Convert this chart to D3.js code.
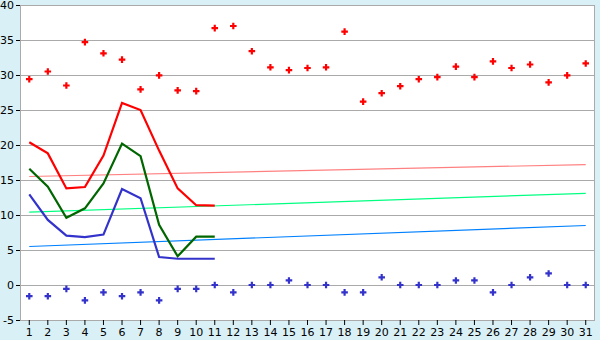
<!DOCTYPE html>
<html>
<head>
<meta charset="utf-8">
<script src="https://cdn.jsdelivr.net/npm/d3@7"></script>
<style>
  body { margin: 0; background: #d9f0f7; }
  svg { display: block; }
  .tick text { font-family: "DejaVu Sans", Verdana, sans-serif; font-size: 11px; fill: #000; }
</style>
</head>
<body>
<svg id="chart" width="600" height="340"></svg>
<script>
const days = d3.range(1, 32);
const yTicks = [-5, 0, 5, 10, 15, 20, 25, 30, 35, 40];

// daily max / min points
const maxPoints = [29.4, 30.5, 28.5, 34.7, 33.1, 32.2, 27.95, 29.95, 27.8, 27.7,
    36.7, 37.0, 33.4, 31.1, 30.7, 31.0, 31.1, 36.2, 26.2, 27.4, 28.4,
    29.4, 29.7, 31.2, 29.7, 31.95, 31.0, 31.5, 28.95, 29.95, 31.65];
const minPoints = [-1.6, -1.6, -0.55, -2.2, -1.05, -1.6, -1.05, -2.2, -0.55, -0.55,
    0, -1.05, 0, 0, 0.65, 0, 0, -1.05, -1.05, 1.1, 0,
    0, 0, 0.65, 0.65, -1.05, 0, 1.1, 1.65, 0, 0];

// lines, days 1-11
const redLine = [20.4, 18.8, 13.8, 14.0, 18.5, 26.0, 25.0, 19.2, 13.8, 11.4, 11.35];
const greenLine = [16.6, 14.05, 9.6, 10.95, 14.5, 20.2, 18.4, 8.6, 4.1, 6.9, 6.9];
const blueLine = [12.95, 9.3, 7.05, 6.85, 7.2, 13.7, 12.4, 4.0, 3.75, 3.75, 3.75];

// trend lines: value at day 1 and day 31
const pinkTrend = [15.5, 17.2];
const lightGreenTrend = [10.4, 13.1];
const lightBlueTrend = [5.5, 8.5];

const svg = d3.select('#chart');
const plotLeft = 20, plotRight = 595, plotTop = 5, plotBottom = 320;

const x = d3.scaleBand().domain(days).range([plotLeft, plotRight]);
const cx = d => x(d) + x.bandwidth() / 2;
const y = d3.scaleLinear().domain([-5, 40]).range([plotBottom, plotTop]);

svg.append('rect')
    .attr('x', plotLeft).attr('y', plotTop)
    .attr('width', plotRight - plotLeft).attr('height', plotBottom - plotTop)
    .attr('fill', '#fff');

// grid
svg.append('g')
    .selectAll('line')
    .data(yTicks)
    .enter().append('line')
    .attr('x1', plotLeft).attr('x2', plotRight)
    .attr('y1', d => Math.round(y(d)) + 0.5).attr('y2', d => Math.round(y(d)) + 0.5)
    .style('stroke', '#aaa');

svg.append('rect')
    .attr('x', plotLeft + 0.5).attr('y', plotTop + 0.5)
    .attr('width', plotRight - plotLeft - 1).attr('height', plotBottom - plotTop)
    .attr('fill', 'none')
    .style('stroke', '#aaa');

// axes
const yAxis = svg.append('g')
    .attr('transform', `translate(${plotLeft},0)`)
    .call(d3.axisLeft(y).tickValues(yTicks).tickSize(4).tickPadding(2).tickFormat(d => String(d)));
yAxis.select('.domain').remove();
yAxis.selectAll('.tick line').style('stroke', '#000');

const xAxis = svg.append('g')
    .attr('transform', `translate(0,${plotBottom})`)
    .call(d3.axisBottom(x).tickSize(5).tickPadding(3));
xAxis.select('.domain').remove();
xAxis.selectAll('.tick line').style('stroke', '#000');

// trend lines
const trends = [
    {vals: pinkTrend, color: '#ff8080'},
    {vals: lightGreenTrend, color: '#00ff80'},
    {vals: lightBlueTrend, color: '#0080ff'}
];
svg.append('g')
    .selectAll('line')
    .data(trends)
    .enter().append('line')
    .attr('x1', cx(1)).attr('x2', cx(31))
    .attr('y1', d => y(d.vals[0])).attr('y2', d => y(d.vals[1]))
    .attr('stroke-width', 1.2)
    .style('stroke', d => d.color);

// main lines
const line = d3.line()
    .x((d, i) => cx(days[i]))
    .y(d => y(d));

const series = [
    {vals: redLine, color: '#ff0000'},
    {vals: greenLine, color: '#006600'},
    {vals: blueLine, color: '#3333cc'}
];
svg.append('g')
    .selectAll('path')
    .data(series)
    .enter().append('path')
    .attr('d', d => line(d.vals))
    .attr('fill', 'none')
    .attr('stroke-width', 2.2)
    .style('stroke', d => d.color);

// points
const cross = d3.symbol().type(d3.symbolCross).size(24);
const pointSets = [
    {vals: maxPoints, color: '#ff0000'},
    {vals: minPoints, color: '#3333cc'}
];
pointSets.forEach(set => {
    svg.append('g')
        .selectAll('path')
        .data(set.vals)
        .enter().append('path')
        .attr('d', cross)
        .attr('transform', (d, i) => `translate(${cx(days[i])},${y(d)})`)
        .style('fill', set.color);
});
</script>
</body>
</html>
